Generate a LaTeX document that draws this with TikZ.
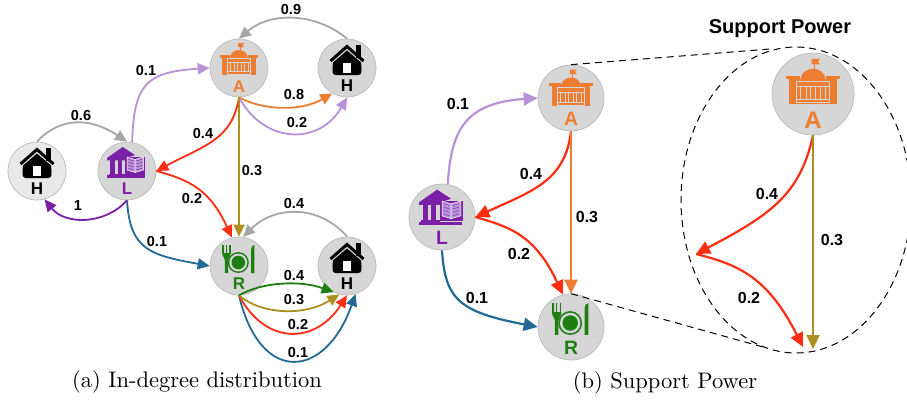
\documentclass[tikz,border=0pt]{standalone}
\usepackage{fontspec}
\usetikzlibrary{arrows.meta}
\newfontfamily\lsans{Liberation Sans}
\definecolor{cOrange}{HTML}{ED7D31}
\definecolor{cPurple}{HTML}{7A1FA6}
\definecolor{cLilac}{HTML}{B892D6}
\definecolor{cRed}{HTML}{FF2D12}
\definecolor{cGold}{HTML}{AD8F1F}
\definecolor{cBlue}{HTML}{216A94}
\definecolor{cGreen}{HTML}{1E7E12}
\definecolor{cGrey}{HTML}{A6A6A6}
\definecolor{cDisc}{HTML}{D6D6D6}
\definecolor{cRim}{HTML}{B9B9B9}
\tikzset{
  disc/.style={circle,draw=cRim,fill=cDisc,line width=0.7pt,inner sep=0pt,minimum size=#1},
  edgeA/.style={line width=1.8pt,-{Triangle[length=12pt,width=11pt]}},
  edgeB/.style={line width=2.2pt,-{Triangle[length=14pt,width=13pt]}},
  numA/.style={font=\lsans\bfseries\fontsize{14.5}{16}\selectfont,inner sep=0pt},
  numB/.style={font=\lsans\bfseries\fontsize{16}{18}\selectfont,inner sep=0pt},
  capt/.style={font=\rmfamily\fontsize{10}{12}\selectfont,scale=2.25,inner sep=0pt},
  cutline/.style={black,line width=1pt,dash pattern=on 7pt off 5pt},
  letter/.style={font=\lsans\bfseries\fontsize{17}{19}\selectfont,inner sep=0pt,transform shape},
  gapline/.style={cDisc,line width=0.8pt},
  homeicon/.pic={
    \fill[black] (0,-17.5) -- (14,-5.5) .. controls (15,4) and (15,7) .. (11,7) -- (-11,7) .. controls (-15,7) and (-15,4) .. (-14,-5.5) -- cycle;
    \fill[black] (9,-23) rectangle (14,-10);
    \draw[black,line width=3pt,miter limit=10] (-16.5,-7) -- (0,-21.5) -- (16.5,-7);
    \fill[white] (-4,-5) rectangle (4,4.5);
    \node[letter,black] at (0,18) {H};
  },
  bankicon/.pic={
    \fill[cOrange] (0.6,-25) rectangle (1.6,-17);
    \fill[cOrange] (-1,-25) -- (5,-25) -- (3.5,-23) -- (5,-21) -- (-1,-21) -- cycle;
    \fill[cOrange] (-9,-9.5) arc[start angle=180,end angle=360,x radius=9,y radius=8.5] -- cycle;
    \fill[cOrange] (-19,-13) -- (-9,-13) -- (-9,-10.5) -- (-19,-10.5) -- cycle;
    \fill[cOrange] (19,-13) -- (9,-13) -- (9,-10.5) -- (19,-10.5) -- cycle;
    \fill[cOrange] (-17,-10.5) rectangle (17,7);
    \draw[gapline] (-11.5,6.3) -- (-11.5,-9.2) -- (11.5,-9.2) -- (11.5,6.3) -- cycle;
    \draw[gapline] (-11.5,-5.2) -- (11.5,-5.2);
    \draw[gapline] (-11.5,3.5) -- (11.5,3.5);
    \foreach \cx in {-7,0,7}{
      \draw[gapline] (\cx-2,-5.2) -- (\cx-2,3.5);
      \draw[gapline] (\cx+2,-5.2) -- (\cx+2,3.5);
    }
    \node[letter,cOrange] at (0,18.5) {A};
  },
  libicon/.pic={
    \fill[cPurple] (-20,-13) -- (-4.3,-24) -- (8,-16) -- (-1,-13) -- (-1,-10.7) -- (-20,-10.7) -- cycle;
    \fill[cPurple] (-17,-10.7) rectangle (-12,3.5);
    \fill[cPurple] (-9.3,-10.7) rectangle (-5,3.5);
    \fill[cPurple] (-18,3) rectangle (-2,4.5);
    \fill[cPurple] (-20,4.3) rectangle (17.5,7.3);
    \fill[cPurple] (-2,-14) rectangle (18,3.5);
    \fill[cLilac,draw=white,line width=0.5pt] (0,-14) -- (8,-11.5) -- (8,1.5) -- (0,-1) -- cycle;
    \fill[cLilac,draw=white,line width=0.5pt] (8,-11.5) -- (16.5,-14) -- (16.5,-1) -- (8,1.5) -- cycle;
    \foreach \hh in {-9,-6,-3,0}{
      \draw[cPurple,line width=0.4pt] (1.5,\hh-2.7) -- (6.5,\hh-1.1);
      \draw[cPurple,line width=0.4pt] (9.5,\hh-1.1) -- (15,\hh-2.7);
    }
    \node[letter,cPurple] at (0,18) {L};
  },
  dineicon/.pic={
    \fill[cGreen] (-0.7,-3.5) circle[radius=10.5];
    \fill[cDisc] (-0.7,-3.5) circle[radius=9];
    \fill[cGreen] (-0.7,-3.5) circle[radius=6.8];
    \fill[cGreen] (-16.7,-21) rectangle (-15.3,-12);
    \fill[cGreen] (-13.3,-21) rectangle (-11.9,-12);
    \fill[cGreen] (-9.9,-21) rectangle (-8.5,-12);
    \fill[cGreen] (-16.7,-13) .. controls (-16.7,-8) and (-13.5,-9) .. (-14.2,-6) -- (-14.2,7) -- (-11,7) -- (-11,-6) .. controls (-11.5,-9) and (-8.5,-8) .. (-8.5,-13) -- cycle;
    \fill[cGreen] (12,7) -- (12,-16) .. controls (12,-19) and (13.5,-21) .. (15.3,-21) -- (15.3,7) -- cycle;
    \node[letter,cGreen] at (0,18) {R};
  }
}
\begin{document}
\begin{tikzpicture}[x=1pt,y=-1pt]
\useasboundingbox (0,0) rectangle (907,400);
\clip (0,0) rectangle (907,400);
% panel (a) nodes
\node[disc=58pt,fill=black!9] (hz) at (37,171) {};
\node[disc=58pt] (l) at (127,171) {};
\node[disc=58pt] (a) at (239,68) {};
\node[disc=58pt] (hone) at (347,68) {};
\node[disc=58pt] (r) at (239,266) {};
\node[disc=58pt] (htwo) at (347,266) {};
\pic at (hz) {homeicon};
\pic at (l) {libicon};
\pic at (a) {bankicon};
\pic at (hone) {homeicon};
\pic at (r) {dineicon};
\pic at (htwo) {homeicon};
% panel (a) edges
\draw[edgeA,cGrey] (hz.north) .. controls (60,117) and (90,117) .. (l.north);
\draw[edgeA,cLilac] (l.80) .. controls (134,85) and (145,72) .. (a.west);
\draw[edgeA,cGrey] (hone.north) .. controls (315,12) and (270,12) .. (a.north);
\draw[edgeA,cOrange] (a.south) .. controls (262,110) and (300,112) .. (hone.240);
\draw[edgeA,cLilac] (a.south) .. controls (265,145) and (320,145) .. (hone.south);
\draw[edgeA,cRed] (a.south) .. controls (232,140) and (205,145) .. (l.east);
\draw[edgeA,cRed] (l.east) .. controls (190,180) and (210,190) .. (r.104);
\draw[edgeA,cGold] (a.south) -- (r.north);
\draw[edgeA,cGrey] (htwo.north) .. controls (320,205) and (275,205) .. (r.82);
\draw[edgeA,cBlue] (l.south) .. controls (130,250) and (150,255) .. (r.west);
\draw[edgeA,cPurple] (l.south) .. controls (105,225) and (65,225) .. (hz.-75);
\draw[edgeA,cBlue] (r.south) .. controls (260,385) and (325,380) .. (htwo.-73);
\draw[edgeA,cRed] (r.south) .. controls (265,345) and (315,345) .. (htwo.south);
\draw[edgeA,cGold] (r.south) .. controls (262,315) and (305,316) .. (htwo.-105);
\draw[edgeA,cGreen] (r.south) .. controls (262,282) and (300,280) .. (htwo.-117);
% panel (a) labels
\node[numA] (n1) at (81,116) {0.6};
\node[numA] (n2) at (146,71) {0.1};
\node[numA] (n3) at (291,10) {0.9};
\node[numA] (n4) at (294,95) {0.8};
\node[numA] (n5) at (297,123) {0.2};
\node[numA] (n6) at (203,134) {0.4};
\node[numA] (n7) at (252,171) {0.3};
\node[numA] (n8) at (192,199) {0.2};
\node[numA] (n9) at (78,206) {1};
\node[numA] (n10) at (157,242) {0.1};
\node[numA] (n11) at (294,204) {0.4};
\node[numA] (n12) at (294,276) {0.4};
\node[numA] (n13) at (294,300) {0.3};
\node[numA] (n14) at (298,324) {0.2};
\node[numA] (n15) at (298,352) {0.1};
% panel (b) nodes
\node[disc=66pt] (ab) at (571,98) {};
\node[disc=66pt] (lb) at (442,217) {};
\node[disc=66pt] (rb) at (571,327) {};
\node[disc=82pt] (ac) at (813,94) {};
\pic[scale=1.14] at (ab) {bankicon};
\pic[scale=1.14] at (lb) {libicon};
\pic[scale=1.14] at (rb) {dineicon};
\pic[scale=1.41] at (ac) {bankicon};
\coordinate (mid) at (696,254);
\coordinate (tipred) at (803,347);
\coordinate (tipgold) at (813,349);
\coordinate (elltop) at (770,49);
\coordinate (ellbot) at (763,347);
% cut-out
\draw[cutline] (ab.north) -- (elltop);
\draw[cutline] (rb.north) -- (ellbot);
\draw[cutline] (796,200) ellipse[x radius=115,y radius=153];
% panel (b) edges
\draw[edgeB,cLilac] (lb.80) .. controls (451,130) and (465,103) .. (ab.west);
\draw[edgeB,cRed] (ab.south) .. controls (565,180) and (535,190) .. (lb.east);
\draw[edgeB,cRed] (lb.east) .. controls (510,227) and (535,235) .. (rb.104);
\draw[edgeB,cOrange] (ab.south) -- (rb.north);
\draw[edgeB,cBlue] (lb.south) .. controls (445,300) and (460,312) .. (rb.west);
\draw[edgeB,cRed] (ac.south) .. controls (800,195) and (770,215) .. (mid);
\draw[edgeB,cRed] (mid) .. controls (740,265) and (768,278) .. (tipred);
\draw[edgeB,cGold] (ac.south) -- (tipgold);
% panel (b) labels
\node[numB] (m1) at (458,104) {0.1};
\node[numB] (m2) at (531,174) {0.4};
\node[numB] (m3) at (587,217) {0.3};
\node[numB] (m4) at (519,254) {0.2};
\node[numB] (m5) at (477,298) {0.1};
\node[numB] (m6) at (767,194) {0.4};
\node[numB] (m7) at (832,240) {0.3};
\node[numB] (m8) at (749,298) {0.2};
\node[font=\lsans\bfseries\fontsize{20}{22}\selectfont,inner sep=0pt] (ttl) at (780,29) {Support Power};
% captions
\node[capt] (ca) at (197,382) {(a) In-degree distribution};
\node[capt] (cb) at (665,383) {(b) Support Power};
\end{tikzpicture}
\end{document}
